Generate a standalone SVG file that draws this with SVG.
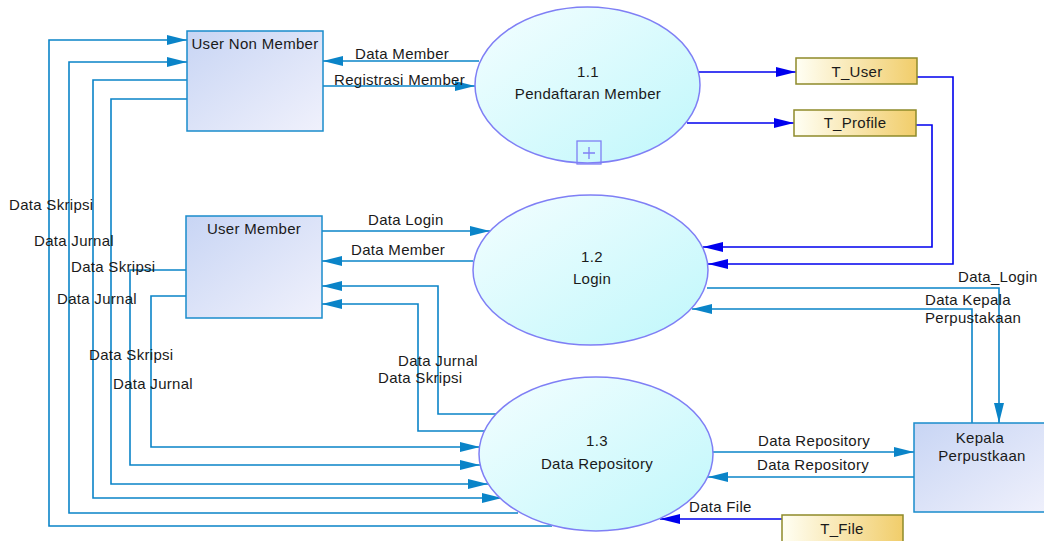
<svg xmlns="http://www.w3.org/2000/svg" width="1044" height="541" viewBox="0 0 1044 541">
<defs>
<linearGradient id="gBox" x1="0" y1="0" x2="1" y2="1">
<stop offset="0" stop-color="#c8d5f4"/>
<stop offset="1" stop-color="#f0f1fc"/>
</linearGradient>
<linearGradient id="gEll" x1="0" y1="0" x2="1" y2="1">
<stop offset="0" stop-color="#f4feff"/>
<stop offset="1" stop-color="#bff7fb"/>
</linearGradient>
<linearGradient id="gStore" x1="0" y1="0" x2="1" y2="0">
<stop offset="0" stop-color="#fffff4"/>
<stop offset="1" stop-color="#f1cd6a"/>
</linearGradient>
<marker id="aC" markerUnits="userSpaceOnUse" markerWidth="20" markerHeight="10" refX="20" refY="5" orient="auto">
<path d="M0,0 L20,5 L0,10 z" fill="#0a84c8"/>
</marker>
<marker id="aB" markerUnits="userSpaceOnUse" markerWidth="20" markerHeight="10" refX="20" refY="5" orient="auto">
<path d="M0,0 L20,5 L0,10 z" fill="#0000ee"/>
</marker>
</defs>
<style>
text{font-family:"Liberation Sans",Arial,sans-serif;font-size:15px;fill:#1a1a1a;letter-spacing:0.3px}
.c{text-anchor:middle}
.box{fill:url(#gBox);stroke:#1a8ccc;stroke-width:1.5}
.ell{fill:url(#gEll);stroke:#7f7ff5;stroke-width:1.5}
.store{fill:url(#gStore);stroke:#8e8a2a;stroke-width:1.5}
.fc{fill:none;stroke:#0a84c8;stroke-width:1.6}
.fcA{fill:none;stroke:#0a84c8;stroke-width:1.6;marker-end:url(#aC)}
.fb{fill:none;stroke:#0000ee;stroke-width:1.6}
.fbA{fill:none;stroke:#0000ee;stroke-width:1.6;marker-end:url(#aB)}
</style>
<rect width="1044" height="541" fill="#ffffff"/>

<g id="connectors">
<path class="fcA" d="M479,61 L323,61"/>
<path class="fcA" d="M323,86 L475,86"/>
<path class="fbA" d="M699,72 L796,72"/>
<path class="fbA" d="M687,123 L794,123"/>
<path class="fbA" d="M917,77 L953,77 L953,264 L708,264"/>
<path class="fbA" d="M916,125 L932,125 L932,247 L703,247"/>
<path class="fcA" d="M322,231 L490,231"/>
<path class="fcA" d="M473,261 L322,261"/>
<path class="fcA" d="M707,288 L999,288 L999,423"/>
<path class="fcA" d="M972,423 L972,309 L692,309"/>
<path class="fcA" d="M713,452 L914,452"/>
<path class="fcA" d="M914,477 L708,477"/>
<path class="fbA" d="M782,519 L660,519"/>
<path class="fcA" d="M552,526 L49,526 L49,40 L187,40"/>
<path class="fcA" d="M518,513 L69,513 L69,62 L187,62"/>
<path class="fcA" d="M187,80 L93,80 L93,498 L502,498"/>
<path class="fcA" d="M187,99 L111,99 L111,484 L488,484"/>
<path class="fcA" d="M186,270 L130,270 L130,465 L480,465"/>
<path class="fcA" d="M186,296 L151,296 L151,447 L480,447"/>
<path class="fcA" d="M496,414 L438,414 L438,286 L322,286"/>
<path class="fcA" d="M484,431 L418,431 L418,304 L322,304"/>
</g>

<g id="labels">
<text x="355" y="59">Data Member</text>
<text x="334" y="85">Registrasi Member</text>
<text x="368" y="225">Data Login</text>
<text x="351" y="255">Data Member</text>
<text x="958" y="282">Data_Login</text>
<text x="925" y="305">Data Kepala</text>
<text x="925" y="323">Perpustakaan</text>
<text x="758" y="446">Data Repository</text>
<text x="757" y="470">Data Repository</text>
<text x="689" y="512">Data File</text>
<text x="9" y="210">Data Skripsi</text>
<text x="34" y="246">Data Jurnal</text>
<text x="71" y="272">Data Skripsi</text>
<text x="57" y="304">Data Jurnal</text>
<text x="89" y="360">Data Skripsi</text>
<text x="113" y="389">Data Jurnal</text>
<text x="398" y="366">Data Jurnal</text>
<text x="378" y="383">Data Skripsi</text>
</g>

<g id="user-non-member">
<rect class="box" x="187" y="31" width="136" height="100"/>
<text class="c" x="255" y="49">User Non Member</text>
</g>

<g id="user-member">
<rect class="box" x="186" y="216" width="136" height="102"/>
<text class="c" x="254" y="234">User Member</text>
</g>

<g id="kepala-perpustakaan">
<rect class="box" x="914" y="423" width="138" height="89"/>
<text class="c" x="980" y="443">Kepala</text>
<text class="c" x="982" y="461">Perpustkaan</text>
</g>

<g id="p1-1">
<ellipse class="ell" cx="587.5" cy="85" rx="112.5" ry="78"/>
<text class="c" x="588" y="77">1.1</text>
<text class="c" x="588" y="99">Pendaftaran Member</text>
<rect x="577" y="141" width="24" height="23" fill="none" stroke="#7f7ff5" stroke-width="1.3"/>
<path d="M583,153 H595 M589,147 V159" stroke="#7f7ff5" stroke-width="1.3"/>
</g>

<g id="p1-2">
<ellipse class="ell" cx="590.5" cy="270" rx="117.5" ry="75"/>
<text class="c" x="592" y="262">1.2</text>
<text class="c" x="592" y="284">Login</text>
</g>

<g id="p1-3">
<ellipse class="ell" cx="596" cy="454" rx="117" ry="77"/>
<text class="c" x="597" y="446">1.3</text>
<text class="c" x="597" y="469">Data Repository</text>
</g>

<g id="t-user">
<rect class="store" x="796" y="58" width="121" height="26"/>
<text class="c" x="857" y="77">T_User</text>
</g>

<g id="t-profile">
<rect class="store" x="794" y="110" width="122" height="26"/>
<text class="c" x="855" y="128">T_Profile</text>
</g>

<g id="t-file">
<rect class="store" x="782" y="515" width="121" height="27"/>
<text class="c" x="842" y="534">T_File</text>
</g>
</svg>
